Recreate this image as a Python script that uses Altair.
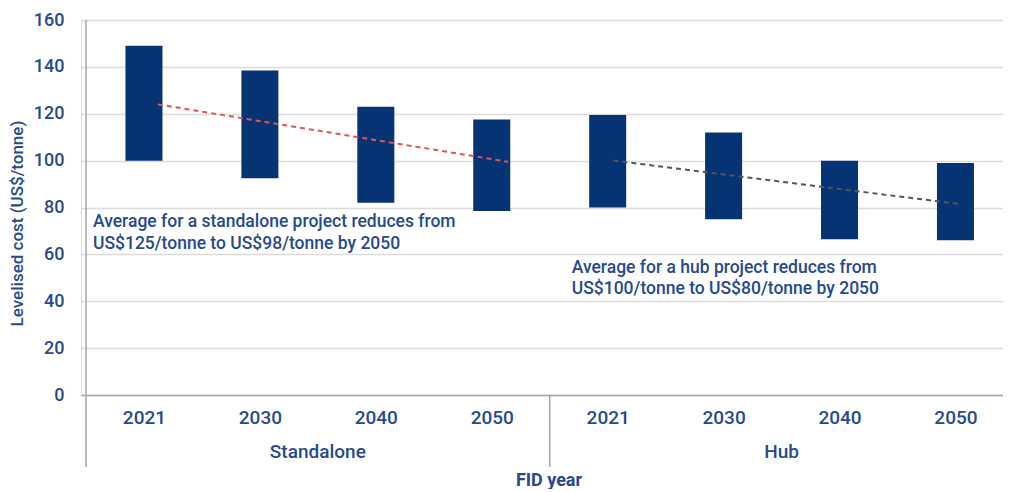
import altair as alt
import pandas as pd

# ---- data ----
years = ["2021", "2030", "2040", "2050", "2021", "2030", "2040", "2050"]
groups = ["Standalone"] * 4 + ["Hub"] * 4
low = [100, 92.5, 82, 78.5, 80, 75, 66.5, 66]
high = [149, 138.5, 123, 117.5, 119.5, 112, 100, 99]

trend_s_x = [0.12, 3.14]
trend_s_y = [124, 99.5]
trend_h_x = [4.05, 7.03]
trend_h_y = [100, 81.5]

group_names = ["Standalone", "Hub"]
group_pos = [1.5, 5.5]

notes_x = [-0.44, -0.44, 3.69, 3.69]
notes_y = [74, 64.5, 54.3, 45.4]
notes_text = [
    "Average for a standalone project reduces from",
    "US$125/tonne to US$98/tonne by 2050",
    "Average for a hub project reduces from",
    "US$100/tonne to US$80/tonne by 2050",
]

W, H = 922, 375
TXT = "#264a8c"
BAR = "#063374"
GRID = "#dcdcdc"
AX = "#a6a6a6"
FONT = "Roboto"

bars_df = pd.DataFrame({"i": list(range(8)), "year": years, "group": groups,
                        "low": low, "high": high})
xs = alt.Scale(domain=[-0.5, 7.367], nice=False, zero=False)
ys = alt.Scale(domain=[0, 160], nice=False)

xaxis = alt.Axis(values=list(range(8)),
                 labelExpr="['2021','2030','2040','2050','2021','2030','2040','2050'][datum.value]",
                 ticks=False, grid=False, domainColor=AX, domainWidth=1.5,
                 labelFont=FONT, labelFontSize=19, labelFontWeight=500, labelColor=TXT,
                 labelPadding=13, title="FID year", titleFont=FONT, titleFontSize=18,
                 titleFontWeight="bold", titleColor=TXT, titleY=85, titleBaseline="middle",
                 titleX=467.5, titleAnchor="middle")
yaxis = alt.Axis(values=[0, 20, 40, 60, 80, 100, 120, 140, 160], ticks=False, domain=False,
                 grid=True, gridColor=GRID, gridWidth=1.5,
                 labelFont=FONT, labelFontSize=18, labelFontWeight=500, labelColor=TXT,
                 labelPadding=17, title="Levelised cost (US$/tonne)", titleFont=FONT,
                 titleFontSize=17, titleFontWeight=500, titleColor=TXT,
                 titleX=-64, titleY=203, titleAngle=270, titleAlign="center",
                 titleBaseline="middle")

bars = alt.Chart(bars_df).mark_bar(size=37, color=BAR).encode(
    x=alt.X("i:Q", scale=xs, axis=xaxis),
    y=alt.Y("low:Q", scale=ys, axis=yaxis),
    y2="high:Q",
)

ts = pd.DataFrame({"x": trend_s_x, "y": trend_s_y})
th = pd.DataFrame({"x": trend_h_x, "y": trend_h_y})
line_s = alt.Chart(ts).mark_line(color="#e05555", strokeDash=[5, 4], strokeWidth=2).encode(
    x=alt.X("x:Q", scale=xs), y=alt.Y("y:Q", scale=ys))
line_h = alt.Chart(th).mark_line(color="#555555", strokeDash=[5, 4], strokeWidth=2).encode(
    x=alt.X("x:Q", scale=xs), y=alt.Y("y:Q", scale=ys))

notes_df = pd.DataFrame({"x": notes_x, "y": notes_y, "t": notes_text})
notes = alt.Chart(notes_df).mark_text(align="left", baseline="middle", font=FONT,
                                      fontSize=17.5, fontWeight=500, color=TXT).encode(
    x=alt.X("x:Q", scale=xs), y=alt.Y("y:Q", scale=ys), text="t:N")

grp_df = pd.DataFrame({"x": group_pos, "g": group_names})
grp = alt.Chart(grp_df).mark_text(align="center", baseline="middle", font=FONT,
                                  fontSize=19, fontWeight=500, color=TXT).encode(
    x=alt.X("x:Q", scale=xs), y=alt.value(432), text="g:N")

sep_df = pd.DataFrame({"x": [-0.5, 3.5], "top": [0, H]})
seps = alt.Chart(sep_df).mark_rule(color=AX, strokeWidth=1.5).encode(
    x=alt.X("x:Q", scale=xs), y=alt.Y("top:Q", scale=None), y2=alt.value(447))

chart = alt.layer(bars, line_s, line_h, notes, grp, seps).properties(
    width=W, height=H,
    autosize=alt.AutoSizeParams(type="none"),
    padding={"left": 73, "top": 12, "right": 0, "bottom": 94},
).configure_view(stroke=None).configure(background="white")

chart.save("out.html", embed_options={"renderer": "svg", "actions": False})
